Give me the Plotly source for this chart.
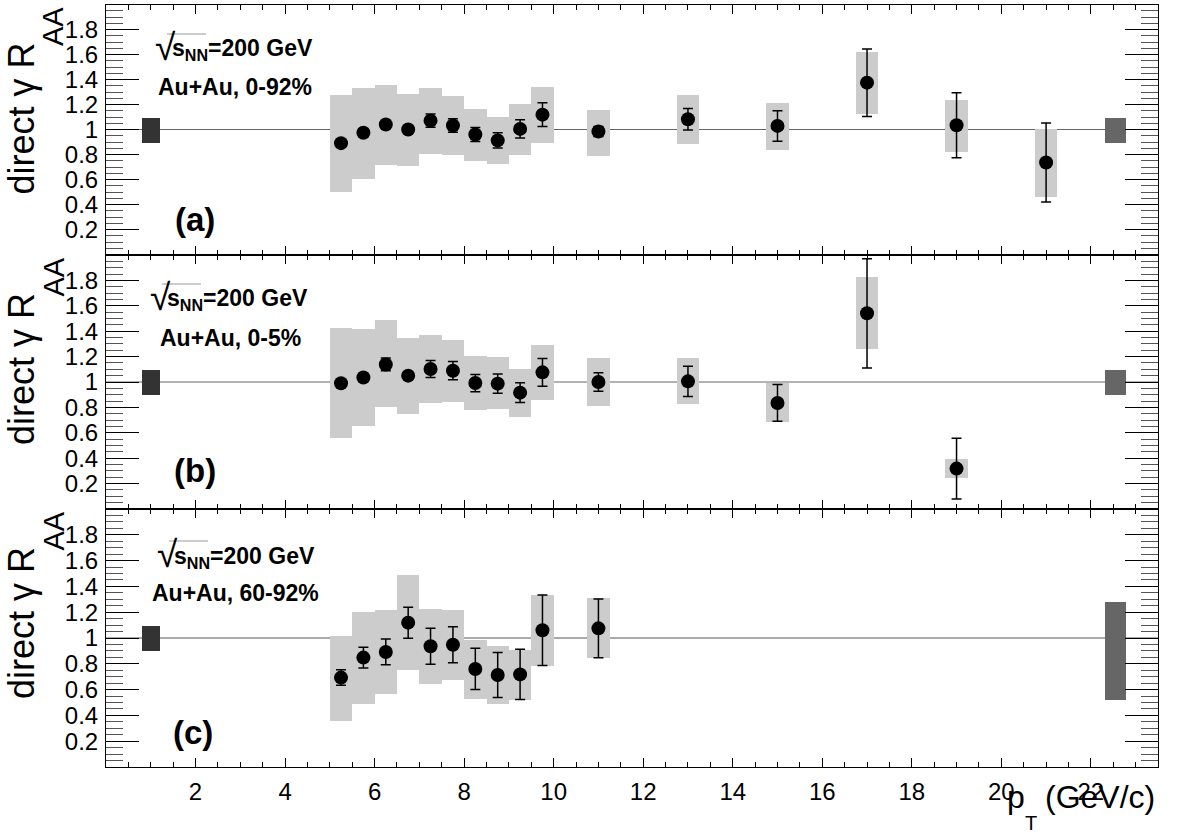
import plotly.graph_objects as go

# ---------------- data ----------------
pt_a = [5.25, 5.75, 6.25, 6.75, 7.25, 7.75, 8.25, 8.75, 9.25, 9.75, 11, 13, 15, 17, 19, 21]
raa_a = [0.891, 0.974, 1.04, 1.0, 1.071, 1.032, 0.96, 0.913, 1.005, 1.119, 0.984, 1.082, 1.029, 1.375, 1.034, 0.736]
stat_a = [0.03, 0.03, 0.03, 0.03, 0.053, 0.055, 0.056, 0.06, 0.073, 0.095, 0.04, 0.086, 0.122, 0.27, 0.26, 0.316]
sys_lo_a = [0.508, 0.611, 0.722, 0.714, 0.807, 0.802, 0.754, 0.725, 0.799, 0.90, 0.794, 0.889, 0.844, 1.125, 0.828, 0.463]
sys_hi_a = [1.277, 1.336, 1.36, 1.286, 1.336, 1.273, 1.172, 1.106, 1.212, 1.341, 1.164, 1.278, 1.214, 1.627, 1.238, 1.01]

pt_b = [5.25, 5.75, 6.25, 6.75, 7.25, 7.75, 8.25, 8.75, 9.25, 9.75, 11, 13, 15, 17, 19]
raa_b = [0.99, 1.036, 1.138, 1.05, 1.102, 1.089, 0.992, 0.987, 0.916, 1.076, 1.0, 1.005, 0.835, 1.541, 0.318]
stat_b = [0.03, 0.03, 0.05, 0.03, 0.067, 0.072, 0.068, 0.076, 0.078, 0.11, 0.073, 0.12, 0.145, 0.43, 0.24]
sys_lo_b = [0.563, 0.65, 0.80, 0.749, 0.832, 0.84, 0.777, 0.785, 0.725, 0.861, 0.812, 0.827, 0.683, 1.256, 0.244]
sys_hi_b = [1.426, 1.42, 1.49, 1.345, 1.371, 1.334, 1.206, 1.196, 1.104, 1.29, 1.188, 1.188, 0.989, 1.824, 0.391]

pt_c = [5.25, 5.75, 6.25, 6.75, 7.25, 7.75, 8.25, 8.75, 9.25, 9.75, 11]
raa_c = [0.693, 0.848, 0.892, 1.119, 0.936, 0.948, 0.76, 0.713, 0.718, 1.06, 1.075]
stat_c = [0.06, 0.08, 0.1, 0.12, 0.14, 0.14, 0.16, 0.175, 0.195, 0.273, 0.228]
sys_lo_c = [0.357, 0.488, 0.569, 0.75, 0.641, 0.677, 0.53, 0.488, 0.517, 0.786, 0.848]
sys_hi_c = [1.018, 1.2, 1.22, 1.486, 1.228, 1.215, 0.982, 0.941, 0.91, 1.333, 1.308]

# normalisation uncertainty boxes (left: x=1, right: x=22.55)
norm_left_x = [1.0]
norm_right_x = [22.55]
norm_left_lo = [0.90, 0.90, 0.902]
norm_left_hi = [1.095, 1.094, 1.093]
norm_right_lo = [0.90, 0.898, 0.52]
norm_right_hi = [1.095, 1.094, 1.28]

centralities = ["0-92%", "0-5%", "60-92%"]
panel_tags = ["(a)", "(b)", "(c)"]

x_tick_vals = [2, 4, 6, 8, 10, 12, 14, 16, 18, 20, 22]
y_tick_vals = [0.2, 0.4, 0.6, 0.8, 1.0, 1.2, 1.4, 1.6, 1.8]
y_tick_text = ["0.2", "0.4", "0.6", "0.8", "1", "1.2", "1.4", "1.6", "1.8"]

# ---------------- layout geometry ----------------
W, H = 1182, 836
ML, MR, MT, MB = 106, 24, 4, 69
PW = W - ML - MR
PH = H - MT - MB
panel_px = [(4.5, 254.5), (255, 509), (509, 767)]  # top, bottom pixel of each panel


def px_x(px):
    return (px - ML) / PW


def px_y(py):
    return (H - MB - py) / PH


FONT = "Liberation Sans, Arial, Helvetica, sans-serif"

fig = go.Figure()

panels = [
    (pt_a, raa_a, stat_a, sys_lo_a, sys_hi_a),
    (pt_b, raa_b, stat_b, sys_lo_b, sys_hi_b),
    (pt_c, raa_c, stat_c, sys_lo_c, sys_hi_c),
]

for i, (pt, raa, stat, lo, hi) in enumerate(panels):
    xa = "x" if i == 0 else f"x{i+1}"
    ya = "y" if i == 0 else f"y{i+1}"
    fig.add_trace(go.Bar(x=pt, y=[h - l for h, l in zip(hi, lo)], base=lo, width=0.5,
                         marker=dict(color="#cccccc", line=dict(width=0)),
                         xaxis=xa, yaxis=ya, showlegend=False, hoverinfo="skip"))
    fig.add_trace(go.Bar(x=norm_left_x, y=[norm_left_hi[i] - norm_left_lo[i]], base=[norm_left_lo[i]],
                         width=0.4, marker=dict(color="#333333", line=dict(width=0)),
                         xaxis=xa, yaxis=ya, showlegend=False, hoverinfo="skip"))
    fig.add_trace(go.Bar(x=norm_right_x, y=[norm_right_hi[i] - norm_right_lo[i]], base=[norm_right_lo[i]],
                         width=0.45, marker=dict(color="#666666", line=dict(width=0)),
                         xaxis=xa, yaxis=ya, showlegend=False, hoverinfo="skip"))
    fig.add_trace(go.Scatter(x=pt, y=raa, mode="markers",
                             marker=dict(color="black", size=14, symbol="circle"),
                             error_y=dict(type="data", array=stat, color="black", thickness=1.5, width=5),
                             xaxis=xa, yaxis=ya, showlegend=False))
    fig.add_shape(type="line", xref=f"{xa} domain", yref=ya, x0=0, x1=1, y0=1, y1=1,
                  line=dict(color="#aaaaaa" if i == 2 else "#666666", width=2 if i == 2 else 1),
                  layer="below")

# ---------------- axes ----------------
domains = [(px_y(b), px_y(t)) for (t, b) in panel_px]
for i in range(3):
    sfx = "" if i == 0 else str(i + 1)
    fig.update_layout(**{
        f"xaxis{sfx}": dict(
            domain=[0, 1], anchor=f"y{sfx}", range=[0, 23.5],
            tickvals=x_tick_vals, ticks="inside", ticklen=9, tickwidth=1, tickcolor="black",
            showline=True, linecolor="black", linewidth=1, mirror="ticks",
            showgrid=False, zeroline=False, showticklabels=(i == 2),
            tickfont=dict(family=FONT, size=24, color="black"), ticklabelstandoff=3,
            minor=dict(dtick=0.5, tick0=0, ticks="inside", ticklen=5, tickcolor="black", showgrid=False),
            matches="x" if i > 0 else None,
        ),
        f"yaxis{sfx}": dict(
            domain=list(domains[i]), anchor=f"x{sfx}", range=[0, 2],
            tickvals=y_tick_vals, ticktext=y_tick_text, ticks="inside", ticklen=33, tickwidth=1,
            tickcolor="black", showline=True, linecolor="black", linewidth=1, mirror="ticks",
            showgrid=False, zeroline=False,
            tickfont=dict(family=FONT, size=24, color="black"), ticklabelstandoff=2,
            minor=dict(dtick=0.05, tick0=0, ticks="inside", ticklen=17, tickcolor="#555555", showgrid=False),
        ),
    })

# ---------------- annotations ----------------
ann = []
sqrt_y = [48, 298, 555]
sqrt_x = [153, 148, 155]
cent_y = [87, 338, 593]
cent_x = [156, 158, 150]
tag_y = [219, 470, 732]
tag_x = [195, 195, 193]
for i in range(3):
    top = panel_px[i][0]
    ann.append(dict(text="√", x=px_x(sqrt_x[i]), y=px_y(sqrt_y[i] - 1), xref="paper", yref="paper",
                    xanchor="left", yanchor="middle", showarrow=False,
                    font=dict(family=FONT, size=37, color="black")))
    ann.append(dict(text="<b>s<sub>NN</sub>=200 GeV</b>", x=px_x(sqrt_x[i] + 17), y=px_y(sqrt_y[i] + 2),
                    xref="paper", yref="paper", xanchor="left", yanchor="middle", showarrow=False,
                    font=dict(family=FONT, size=23, color="black")))
    ann.append(dict(text=f"<b>Au+Au, {centralities[i]}</b>", x=px_x(cent_x[i]), y=px_y(cent_y[i]),
                    xref="paper", yref="paper", xanchor="left", yanchor="middle", showarrow=False,
                    font=dict(family=FONT, size=23, color="black")))
    ann.append(dict(text=f"<b>{panel_tags[i]}</b>", x=px_x(tag_x[i]), y=px_y(tag_y[i]),
                    xref="paper", yref="paper", xanchor="center", yanchor="middle", showarrow=False,
                    font=dict(family=FONT, size=33, color="black")))
    # y-axis title: "direct γ R" with subscript "AA"
    ann.append(dict(text="direct γ R", x=px_x(21), y=px_y(top + 36),
                    xref="paper", yref="paper", xanchor="center", yanchor="top", textangle=-90,
                    showarrow=False, font=dict(family=FONT, size=36, color="black")))
    ann.append(dict(text="AA", x=px_x(53), y=px_y(top + 1),
                    xref="paper", yref="paper", xanchor="center", yanchor="top", textangle=-90,
                    showarrow=False, font=dict(family=FONT, size=29, color="black")))
    fig.add_shape(type="line", xref="paper", yref="paper",
                  x0=px_x(sqrt_x[i] + 14), x1=px_x(sqrt_x[i] + 53),
                  y0=px_y(sqrt_y[i] - 14), y1=px_y(sqrt_y[i] - 14),
                  line=dict(color="#999999", width=1))

# x-axis title: p_T (GeV/c)
ann.append(dict(text="p", x=px_x(1005), y=px_y(797), xref="paper", yref="paper",
                xanchor="left", yanchor="middle", showarrow=False,
                font=dict(family=FONT, size=32, color="black")))
ann.append(dict(text="T", x=px_x(1023), y=px_y(823), xref="paper", yref="paper",
                xanchor="left", yanchor="middle", showarrow=False,
                font=dict(family=FONT, size=20, color="black")))
ann.append(dict(text="(GeV/c)", x=px_x(1157), y=px_y(797), xref="paper", yref="paper",
                xanchor="right", yanchor="middle", showarrow=False,
                font=dict(family=FONT, size=32, color="black")))

fig.update_layout(
    width=W, height=H, margin=dict(l=ML, r=MR, t=MT, b=MB),
    paper_bgcolor="white", plot_bgcolor="white", barmode="overlay", bargap=0,
    annotations=ann, showlegend=False,
)

fig.write_html("out.html")
